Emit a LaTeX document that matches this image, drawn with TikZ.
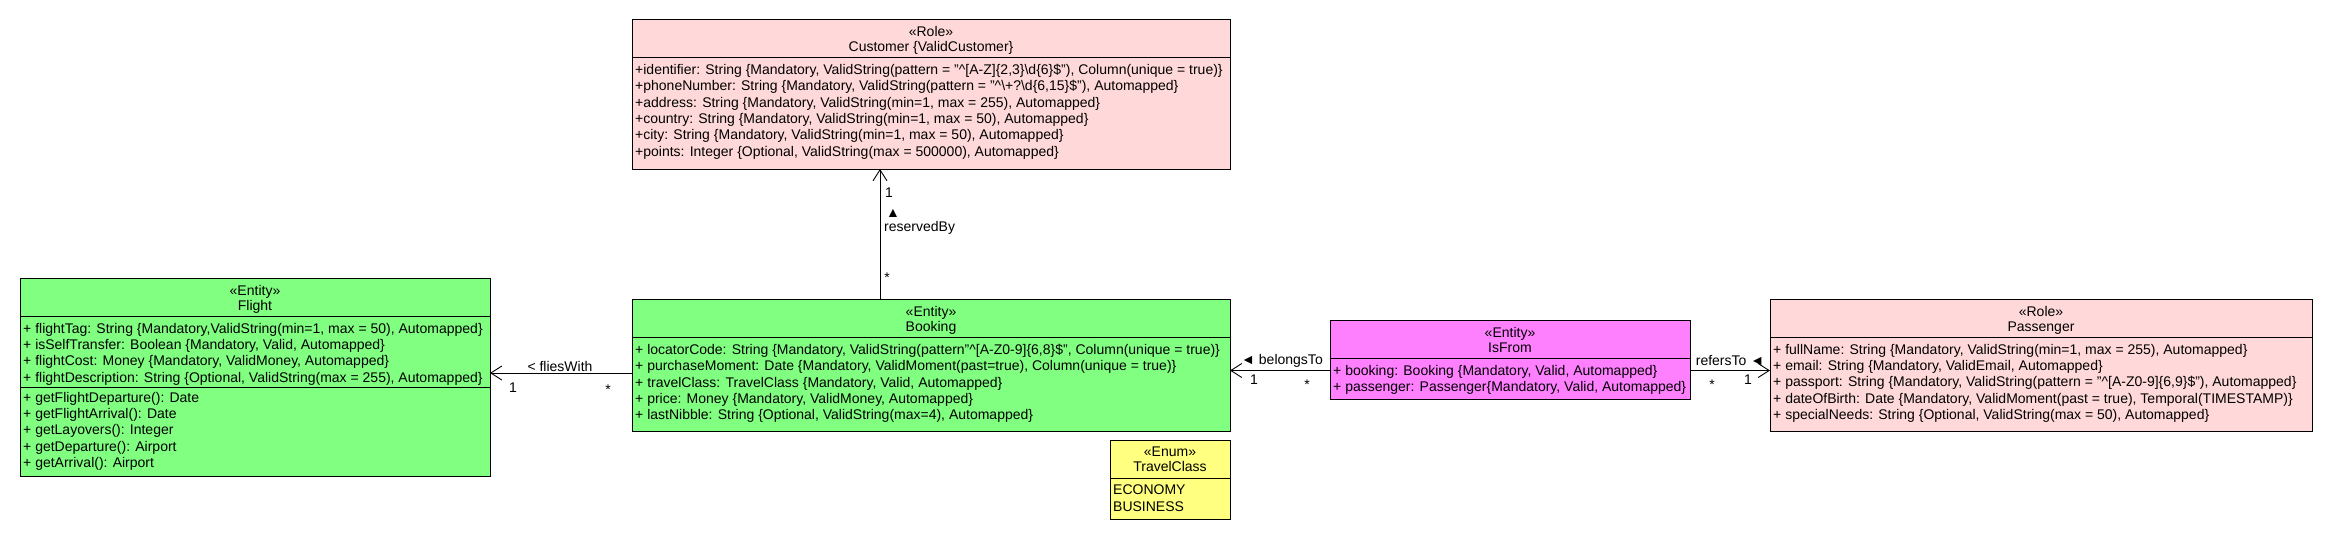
\documentclass[tikz,border=0pt]{standalone}
\usepackage{fontspec}
\setmainfont{Liberation Sans}
\usetikzlibrary{arrows.meta}

\definecolor{rolepink}{RGB}{255,217,217}
\definecolor{entitygreen}{RGB}{128,255,128}
\definecolor{linkmagenta}{RGB}{255,128,255}
\definecolor{enumyellow}{RGB}{255,255,128}

\begin{document}
\begin{tikzpicture}[x=1pt, y=-1pt,
  umlbox/.style={draw, line width=0.9pt, anchor=north west, inner sep=0pt, outer sep=0pt},
  headtext/.style={anchor=north, align=center, inner sep=0pt, font=\fontsize{14}{15}\selectfont},
  attrtext/.style={anchor=north west, align=left, inner sep=0pt, font=\fontsize{14}{16.3}\selectfont},
  lbl/.style={inner sep=0pt, font=\fontsize{14}{15}\selectfont},
  assoc/.style={line width=0.9pt, -{Straight Barb[length=11pt, width=14pt]}}
]

\path[use as bounding box, fill=white] (0,0) rectangle (2330,540);

% Customer
\node[umlbox, fill=rolepink, minimum width=598pt, minimum height=150pt] (customer) at (632,19) {};
\draw[line width=0.9pt] ([yshift=-38pt]customer.north west) -- ([yshift=-38pt]customer.north east);
\node[headtext] (customer-head) at ([yshift=-7pt]customer.north) {«Role»\\Customer \{ValidCustomer\}};
\node[attrtext] (customer-attrs) at ([xshift=3pt,yshift=-45pt]customer.north west) {%
+identifier: String \{Mandatory, ValidString(pattern = "\textasciicircum[A-Z]\{2,3\}\textbackslash d\{6\}\$"), Column(unique = true)\}\\
+phoneNumber: String \{Mandatory, ValidString(pattern = "\textasciicircum\textbackslash +?\textbackslash d\{6,15\}\$"), Automapped\}\\
+address: String \{Mandatory, ValidString(min=1, max = 255), Automapped\}\\
+country: String \{Mandatory, ValidString(min=1, max = 50), Automapped\}\\
+city: String \{Mandatory, ValidString(min=1, max = 50), Automapped\}\\
+points: Integer \{Optional, ValidString(max = 500000), Automapped\}};

% Flight
\node[umlbox, fill=entitygreen, minimum width=470pt, minimum height=198pt] (flight) at (20,278) {};
\draw[line width=0.9pt] ([yshift=-38pt]flight.north west) -- ([yshift=-38pt]flight.north east);
\draw[line width=0.9pt] ([yshift=-109pt]flight.north west) -- ([yshift=-109pt]flight.north east);
\node[headtext] (flight-head) at ([yshift=-7pt]flight.north) {«Entity»\\Flight};
\node[attrtext] (flight-attrs) at ([xshift=3pt,yshift=-45pt]flight.north west) {%
+ flightTag: String \{Mandatory,ValidString(min=1, max = 50), Automapped\}\\
+ isSelfTransfer: Boolean \{Mandatory, Valid, Automapped\}\\
+ flightCost: Money \{Mandatory, ValidMoney, Automapped\}\\
+ flightDescription: String \{Optional, ValidString(max = 255), Automapped\}};
\node[attrtext] (flight-ops) at ([xshift=3pt,yshift=-114pt]flight.north west) {%
+ getFlightDeparture(): Date\\
+ getFlightArrival(): Date\\
+ getLayovers(): Integer\\
+ getDeparture(): Airport\\
+ getArrival(): Airport};

% Booking
\node[umlbox, fill=entitygreen, minimum width=598pt, minimum height=132pt] (booking) at (632,299) {};
\draw[line width=0.9pt] ([yshift=-38pt]booking.north west) -- ([yshift=-38pt]booking.north east);
\node[headtext] (booking-head) at ([yshift=-7pt]booking.north) {«Entity»\\Booking};
\node[attrtext] (booking-attrs) at ([xshift=3pt,yshift=-45pt]booking.north west) {%
+ locatorCode: String \{Mandatory, ValidString(pattern"\textasciicircum[A-Z0-9]\{6,8\}\$", Column(unique = true)\}\\
+ purchaseMoment: Date \{Mandatory, ValidMoment(past=true), Column(unique = true)\}\\
+ travelClass: TravelClass \{Mandatory, Valid, Automapped\}\\
+ price: Money \{Mandatory, ValidMoney, Automapped\}\\
+ lastNibble: String \{Optional, ValidString(max=4), Automapped\}};

% IsFrom
\node[umlbox, fill=linkmagenta, minimum width=360pt, minimum height=79pt] (isfrom) at (1330,320) {};
\draw[line width=0.9pt] ([yshift=-38pt]isfrom.north west) -- ([yshift=-38pt]isfrom.north east);
\node[headtext] (isfrom-head) at ([yshift=-7pt]isfrom.north) {«Entity»\\IsFrom};
\node[attrtext] (isfrom-attrs) at ([xshift=3pt,yshift=-45pt]isfrom.north west) {%
+ booking: Booking \{Mandatory, Valid, Automapped\}\\
+ passenger: Passenger\{Mandatory, Valid, Automapped\}};

% Passenger
\node[umlbox, fill=rolepink, minimum width=542pt, minimum height=132pt] (passenger) at (1770,299) {};
\draw[line width=0.9pt] ([yshift=-38pt]passenger.north west) -- ([yshift=-38pt]passenger.north east);
\node[headtext] (passenger-head) at ([yshift=-7pt]passenger.north) {«Role»\\Passenger};
\node[attrtext] (passenger-attrs) at ([xshift=3pt,yshift=-45pt]passenger.north west) {%
+ fullName: String \{Mandatory, ValidString(min=1, max = 255), Automapped\}\\
+ email: String \{Mandatory, ValidEmail, Automapped\}\\
+ passport: String \{Mandatory, ValidString(pattern = "\textasciicircum[A-Z0-9]\{6,9\}\$"), Automapped\}\\
+ dateOfBirth: Date \{Mandatory, ValidMoment(past = true), Temporal(TIMESTAMP)\}\\
+ specialNeeds: String \{Optional, ValidString(max = 50), Automapped\}};

% TravelClass
\node[umlbox, fill=enumyellow, minimum width=120pt, minimum height=79pt] (travelclass) at (1110,440) {};
\draw[line width=0.9pt] ([yshift=-38pt]travelclass.north west) -- ([yshift=-38pt]travelclass.north east);
\node[headtext] (travelclass-head) at ([yshift=-7pt]travelclass.north) {«Enum»\\TravelClass};
\node[attrtext] (travelclass-attrs) at ([xshift=3pt,yshift=-45pt]travelclass.north west) {ECONOMY\\BUSINESS};

% reservedBy
\draw[assoc] ([xshift=-51pt]booking.north) -- ([xshift=-51pt]customer.south);
\node[lbl] (rb-one) at (889,193) {1};
\node[lbl] (rb-tri) at (893,213) {▲};
\node[lbl, anchor=west] (rb-name) at (884,228) {reservedBy};
\node[lbl] (rb-many) at (887,278) {*};

% fliesWith
\draw[assoc] ([yshift=-8pt]booking.west) coordinate (fw-start) -- (flight.east |- fw-start);
\node[lbl] (fw-name) at (560,366) {< fliesWith};
\node[lbl] (fw-one) at (513,388) {1};
\node[lbl] (fw-many) at (608,390) {*};

% belongsTo
\draw[assoc] ([yshift=-11pt]isfrom.west) coordinate (bt-start) -- (booking.east |- bt-start);
\node[lbl] (bt-name) at (1282,361) {◄ belongsTo};
\node[lbl] (bt-one) at (1254,380) {1};
\node[lbl] (bt-many) at (1307,385) {*};

% refersTo
\draw[assoc] ([yshift=-11pt]isfrom.east) coordinate (rt-start) -- (passenger.west |- rt-start);
\node[lbl] (rt-name) at (1730,361) {refersTo ◄};
\node[lbl] (rt-many) at (1712,385) {*};
\node[lbl] (rt-one) at (1748,380) {1};

\end{tikzpicture}
\end{document}
